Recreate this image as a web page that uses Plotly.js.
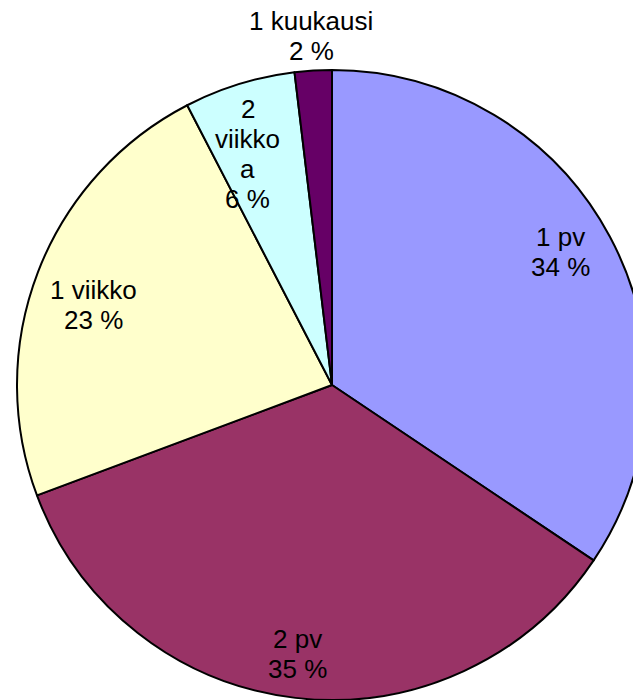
<!DOCTYPE html>
<html>
<head>
<meta charset="utf-8">
<script src="https://cdn.plot.ly/plotly-3.0.1.min.js"></script>
<style>
html, body { margin: 0; padding: 0; overflow: hidden; background: #fff; }
#chart { width: 664px; height: 700px; }
</style>
</head>
<body>
<div id="chart"></div>
<script>
// Data
var categories = ['1 pv', '2 pv', '1 viikko', '2 viikkoa', '1 kuukausi'];
var values = [34.4, 34.9, 23.1, 5.7, 1.9];
// Text lines shown for each slice name (Excel-style wrapping of the narrow slice label)
var displayLines = [['1 pv'], ['2 pv'], ['1 viikko'], ['2', 'viikko', 'a'], ['1 kuukausi']];
var sliceColors = ['#9999FF', '#993366', '#FFFFCC', '#CCFFFF', '#660066'];

// Label placement style: radial fraction of radius and angular nudge (degrees)
var labelRadius = [0.84, 0.86, 0.80, 0.78, 1.11];
var labelNudge = [-2, 0.7, -2.5, -3, 0];
var lineSpacing = 30; // px
var plotSize = 630;   // px (square pie domain)

var total = values.reduce(function (a, b) { return a + b; }, 0);

var trace = {
  type: 'pie',
  labels: categories,
  values: values,
  sort: false,
  direction: 'clockwise',
  rotation: 0,
  textinfo: 'none',
  hoverinfo: 'label+percent',
  marker: { colors: sliceColors, line: { color: '#000000', width: 2 } },
  domain: { x: [0, 1], y: [0, 1] },
  showlegend: false
};

var annotations = [];
var cum = 0;
for (var i = 0; i < values.length; i++) {
  var frac = values[i] / total;
  var mid = (cum + frac / 2) * 360 + labelNudge[i];
  cum += frac;
  var rad = mid * Math.PI / 180;
  var pct = Math.round(frac * 100);
  var lines = displayLines[i].concat([pct + ' %']);
  var cx = 0.5 + 0.5 * labelRadius[i] * Math.sin(rad);
  var cy = 0.5 + 0.5 * labelRadius[i] * Math.cos(rad);
  for (var j = 0; j < lines.length; j++) {
    var off = ((lines.length - 1) / 2 - j) * lineSpacing;
    annotations.push({
      xref: 'paper', yref: 'paper',
      x: cx, y: cy + off / plotSize,
      xanchor: 'center', yanchor: 'middle',
      text: lines[j],
      showarrow: false,
      font: { family: 'Liberation Sans, Arial, sans-serif', size: 26, color: '#000000' }
    });
  }
}

var layout = {
  width: 664,
  height: 700,
  margin: { l: 17, r: 17, t: 70, b: 0, pad: 0 },
  paper_bgcolor: '#ffffff',
  plot_bgcolor: '#ffffff',
  showlegend: false,
  annotations: annotations
};

Plotly.newPlot('chart', [trace], layout, { displayModeBar: false, staticPlot: true });
</script>
</body>
</html>
